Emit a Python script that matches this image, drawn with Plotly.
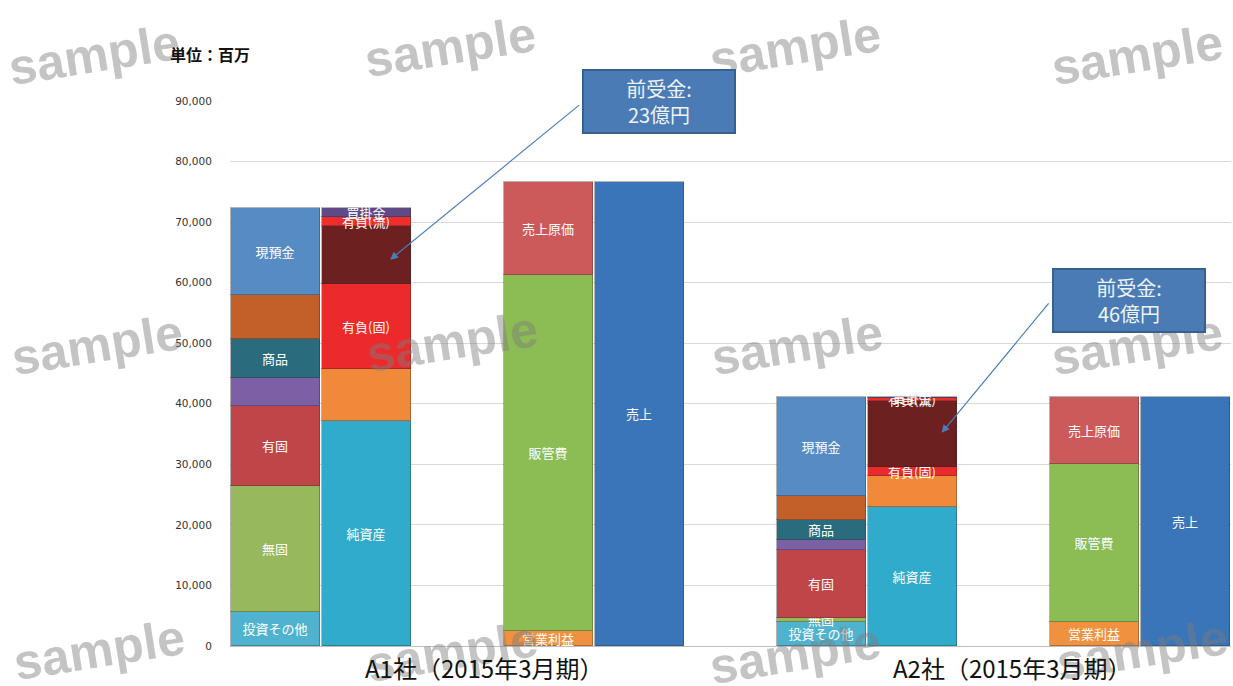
import plotly.graph_objects as go

# --- data (単位: 百万円) -------------------------------------------------
companies = ["A1社（2015年3月期）", "A2社（2015年3月期）"]

# balance sheet: assets column (bottom -> top)
asset_labels = ["投資その他", "無固", "有固", "", "商品", "", "現預金"]
asset_a1 = [5600, 20900, 13100, 4700, 6400, 7200, 14500]
asset_a2 = [3900, 700, 11200, 1700, 3300, 3900, 16500]
asset_colors = ["#4fb3cf", "#98b85e", "#bf4548", "#7d5fa6", "#2b6b7e", "#c35f28", "#578bc4"]

# balance sheet: liabilities + net assets column (bottom -> top)
liab_labels = ["純資産", "", "有負(固)", "", "有負(流)", "買掛金"]
liab_a1 = [37100, 8600, 14100, 9500, 1500, 1600]
liab_a2 = [22900, 5100, 1500, 11000, 400, 300]
liab_colors = ["#30abcb", "#f08a3a", "#ec2a2c", "#6c2020", "#ee2d2d", "#5e4a86"]

# income statement: cost column (bottom -> top)
cost_labels = ["営業利益", "販管費", "売上原価"]
cost_a1 = [2500, 58800, 15300]
cost_a2 = [3900, 26100, 11200]
cost_colors = ["#f0913f", "#8cbc54", "#cc5a5b"]

# income statement: revenue column
sales_labels = ["売上"]
sales_a1 = [76600]
sales_a2 = [41200]
sales_colors = ["#3a74b9"]

# column slots on the x axis for each company: assets, liabilities, costs, sales
slots_a1 = [0, 1, 3, 4]
slots_a2 = [6, 7, 9, 10]
label_slots = [2.3, 8.1]

callouts = ["前受金:<br>23億円", "前受金:<br>46億円"]
callout_targets_y = [63800, 35200]

y_ticks = list(range(0, 90001, 10000))

fig = go.Figure()


def add_column(labels, vals1, vals2, colors, col):
    for lab, v1, v2, c in zip(labels, vals1, vals2, colors):
        fig.add_trace(go.Bar(
            x=[slots_a1[col], slots_a2[col]],
            y=[v1, v2],
            width=0.985,
            marker=dict(color=c, line=dict(color="rgba(40,40,40,0.35)", width=1)),
            text=[lab, lab],
            textposition="inside",
            insidetextanchor="middle",
            textangle=0,
            constraintext="none",
            textfont=dict(family="Noto Sans CJK JP", size=13, color="#ffffff"),
            hoverinfo="skip",
            showlegend=False,
        ))


add_column(asset_labels, asset_a1, asset_a2, asset_colors, 0)
add_column(liab_labels, liab_a1, liab_a2, liab_colors, 1)
add_column(cost_labels, cost_a1, cost_a2, cost_colors, 2)
add_column(sales_labels, sales_a1, sales_a2, sales_colors, 3)

annotations = []

# watermark text (pixel centres converted to paper coordinates)
wm_px = [(94, 55), (450, 47), (795, 47), (1137, 55),
         (97, 345), (452, 342), (797, 345), (1137, 345),
         (99, 650), (452, 652), (795, 654), (1142, 650)]
for px, py in wm_px:
    annotations.append(dict(
        xref="paper", yref="paper",
        x=(px - 230) / 1001, y=(646 - py) / 545,
        text="<b>sample</b>", showarrow=False, textangle=-9,
        font=dict(family="Liberation Sans", size=50, color="rgba(125,125,125,0.45)"),
        xanchor="center", yanchor="middle",
    ))

# company labels under each group
for name, xs in zip(companies, label_slots):
    annotations.append(dict(
        x=xs, xref="x", y=-0.04, yref="paper", yanchor="middle",
        text=name, showarrow=False,
        font=dict(family="Noto Sans CJK JP", size=24, color="#111111"),
    ))

# unit label
annotations.append(dict(
    xref="paper", yref="paper", x=(168 - 230) / 1001, y=(646 - 54) / 545,
    xanchor="left", yanchor="middle", text="<b>単位：百万</b>", showarrow=False,
    font=dict(family="Noto Sans CJK JP", size=16, color="#111111"),
))

# callout arrows (head on the segment, tail on the box edge)
arrow_heads_x = [slots_a1[1] + 0.26, slots_a2[1] + 0.32]
arrow_tails = [(192, -157), (110, -133)]
for hx, hy, (ax, ay) in zip(arrow_heads_x, callout_targets_y, arrow_tails):
    annotations.append(dict(
        x=hx, y=hy, xref="x", yref="y", ax=ax, ay=ay,
        text=" ", showarrow=True, arrowhead=2, arrowsize=1.3, arrowwidth=1.2,
        arrowcolor="#4a7ebb", standoff=0, startstandoff=0,
    ))

# callout boxes
box_centers = [(659, 101.5), (1129, 300)]
for txt, (cx, cy) in zip(callouts, box_centers):
    annotations.append(dict(
        xref="paper", yref="paper", x=(cx - 230) / 1001, y=(646 - cy) / 545,
        xanchor="center", yanchor="middle", text=txt, showarrow=False,
        width=150, height=61, borderpad=0, borderwidth=2,
        bgcolor="#4a7bb5", bordercolor="#35608f",
        font=dict(family="Noto Sans CJK JP", size=20, color="#eef3fa"),
    ))

fig.update_layout(
    width=1233, height=686,
    margin=dict(l=230, r=2, t=101, b=40),
    barmode="stack",
    bargap=0,
    plot_bgcolor="#ffffff",
    paper_bgcolor="#ffffff",
    annotations=annotations,
    showlegend=False,
)
fig.update_xaxes(
    range=[-0.5, 10.5], showticklabels=False, showgrid=False, zeroline=False,
    showline=True, linecolor="#bfbfbf", linewidth=1,
)
fig.update_yaxes(
    range=[0, 90000], tickvals=y_ticks, tickformat=",d",
    showgrid=True, gridcolor="#d9d9d9", gridwidth=1, zeroline=False,
    ticks="outside", ticklen=15, tickcolor="rgba(0,0,0,0)",
    tickfont=dict(family="DejaVu Sans", size=10.5, color="#333333"),
)

fig.write_html("out.html")
